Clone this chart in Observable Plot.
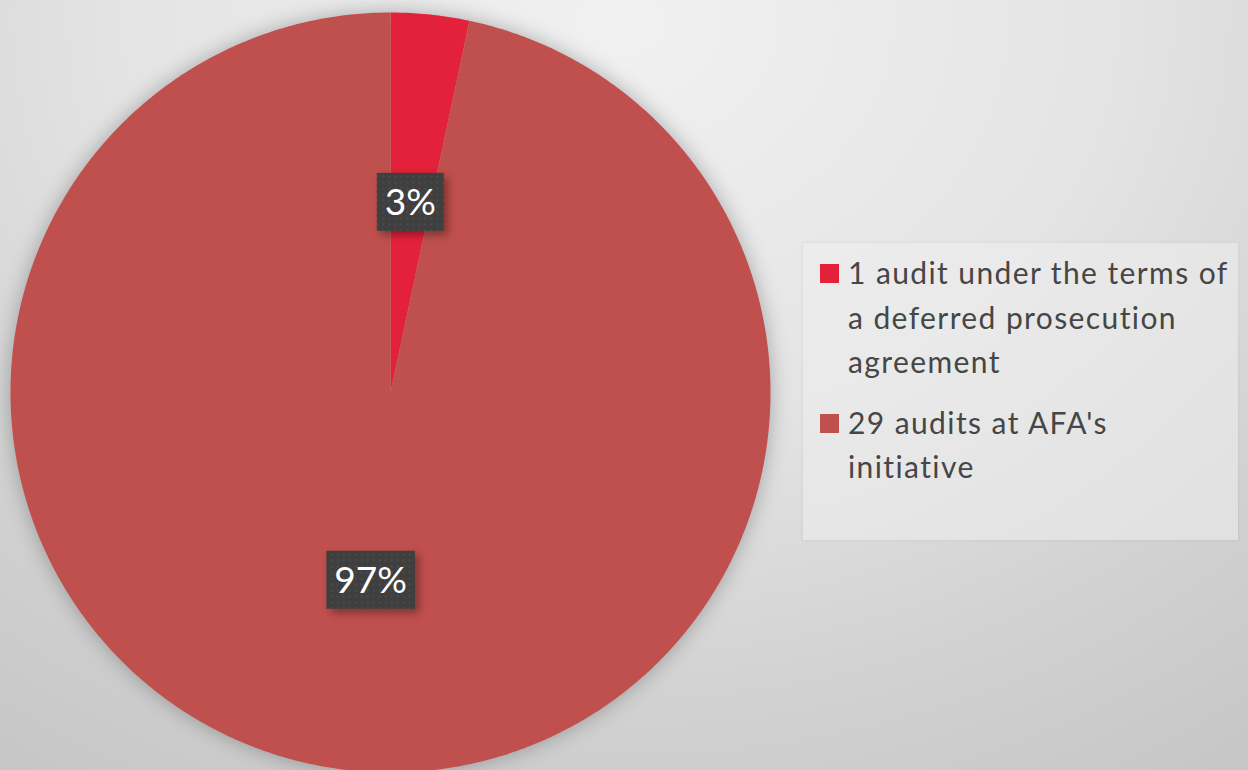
<!DOCTYPE html>
<html>
<head>
<meta charset="utf-8">
<script src="https://cdn.jsdelivr.net/npm/d3@7"></script>
<script src="https://cdn.jsdelivr.net/npm/@observablehq/plot@0.6"></script>
<style>
  html, body { margin: 0; padding: 0; }
  #wrap {
    position: relative; width: 1248px; height: 770px; overflow: hidden;
    background: radial-gradient(ellipse 1100px 900px at 620px 20px, #f1f1f1 0%, #e4e4e4 45%, #d2d2d2 75%, #c6c6c6 100%);
    font-family: Lato, "Open Sans", sans-serif;
  }
  #chart { position: absolute; left: 0; top: 0; }
  #legend {
    position: absolute; left: 803px; top: 243px; width: 435px; height: 297px;
    box-sizing: border-box; padding: 7px 4px 0 17px;
    background: rgba(238,238,238,0.55);
    box-shadow: 0 0 3px rgba(0,0,0,0.08);
    color: #464646; font-size: 30px; line-height: 44.5px; letter-spacing: 1.4px;
  }
  .item { display: flex; align-items: flex-start; margin-bottom: 16px; }
  .sw { width: 19px; height: 19px; flex: none; margin-top: 14px; margin-right: 9px; }
</style>
</head>
<body>
<div id="wrap">
  <div id="chart"></div>
  <div id="legend"></div>
</div>
<script>
const categories = ["1 audit under the terms of a deferred prosecution agreement", "29 audits at AFA's initiative"];
const counts = [1, 29];
const percentLabels = ["3%", "97%"];
const colors = ["#E3213A", "#C0504D"];

const data = categories.map((c, i) => ({category: c, count: counts[i], label: percentLabels[i]}));
const arcs = d3.pie().sort(null).value(d => d.count)(data);

// polygon outline of each slice (angle 0 at 12 o'clock, clockwise)
const outline = [];
for (const a of arcs) {
  const steps = Math.max(4, Math.ceil((a.endAngle - a.startAngle) / (Math.PI / 360)));
  outline.push({category: a.data.category, x: 0, y: 0});
  for (let k = 0; k <= steps; k++) {
    const t = a.startAngle + (a.endAngle - a.startAngle) * k / steps;
    outline.push({category: a.data.category, x: Math.sin(t), y: Math.cos(t)});
  }
  outline.push({category: a.data.category, x: 0, y: 0});
}
const labelPos = arcs.map(a => {
  const m = (a.startAngle + a.endAngle) / 2;
  return {label: a.data.label, x: 0.5 * Math.sin(m), y: 0.5 * Math.cos(m)};
});

const plot = Plot.plot({
  width: 1248,
  height: 770,
  margin: 0,
  style: {background: "transparent", overflow: "visible"},
  x: {domain: [-1, 1], range: [10, 770], axis: null},
  y: {domain: [-1, 1], range: [772, 12], axis: null},
  color: {domain: categories, range: colors},
  marks: [
    Plot.line(outline, {x: "x", y: "y", z: "category", fill: "category", stroke: "none", curve: "linear"}),
    Plot.text(labelPos, {x: "x", y: "y", text: "label", fill: "white", fontSize: 37, fontFamily: "Lato, 'Open Sans', sans-serif"})
  ]
});
document.getElementById("chart").appendChild(plot);

const svg = d3.select(plot);
// defs: dotted pattern for label boxes
const defs = svg.insert("defs", ":first-child");
const pat = defs.append("pattern").attr("id", "dots").attr("width", 6).attr("height", 6).attr("patternUnits", "userSpaceOnUse");
pat.append("rect").attr("width", 6).attr("height", 6).attr("fill", "#3f3f3f");
pat.append("rect").attr("x", 2).attr("y", 2).attr("width", 2).attr("height", 2).attr("fill", "#4b4b4b");

svg.select("g[aria-label='line']").style("filter", "drop-shadow(0px 0px 10px rgba(0,0,0,0.28))");

const textG = svg.select("g[aria-label='text']");
textG.selectAll("text").each(function() {
  const bb = this.getBBox();
  const padX = 8, h = 58;
  const cy = bb.y + bb.height / 2;
  const tr = this.getAttribute("transform");
  const r = d3.select(this.parentNode).insert("rect", () => this)
    .attr("x", bb.x - padX)
    .attr("y", cy - h / 2 + 1)
    .attr("width", bb.width + 2 * padX).attr("height", h)
    .attr("fill", "url(#dots)")
    .style("filter", "drop-shadow(4px 4px 4px rgba(0,0,0,0.35))");
  if (tr) r.attr("transform", tr);
});

// legend
const legend = d3.select("#legend");
data.forEach((d, i) => {
  const item = legend.append("div").attr("class", "item");
  item.append("div").attr("class", "sw").style("background", colors[i]);
  item.append("div").text(d.category);
});
</script>
</body>
</html>
